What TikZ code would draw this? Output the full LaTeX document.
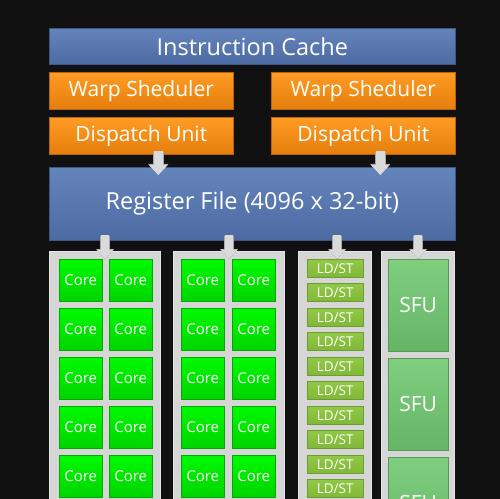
\documentclass[tikz,border=0pt]{standalone}
\usepackage{fontspec}
\setmainfont{Open Sans}
\usetikzlibrary{arrows.meta}
\definecolor{bg}{HTML}{111111}
\definecolor{blueT}{HTML}{6484BC}
\definecolor{blueB}{HTML}{4C6BA2}
\definecolor{blueE}{HTML}{3E5886}
\definecolor{orT}{HTML}{FF9C24}
\definecolor{orB}{HTML}{E57E0C}
\definecolor{orE}{HTML}{B8640A}
\definecolor{coreT}{HTML}{00FA00}
\definecolor{coreB}{HTML}{00D400}
\definecolor{ldT}{HTML}{92C848}
\definecolor{ldB}{HTML}{80B838}
\definecolor{sfuT}{HTML}{80CE80}
\definecolor{sfuB}{HTML}{66B466}
\definecolor{colG}{HTML}{D6D6D6}
\definecolor{colE}{HTML}{E4E4E4}
\definecolor{arrG}{HTML}{DADADA}
\definecolor{arrE}{HTML}{A8A8A8}
\begin{document}
\begin{tikzpicture}[x=1bp,y=-1bp,
  box/.style={inner sep=0pt, anchor=north west, text=white},
  bluebox/.style={box, top color=blueT, bottom color=blueB, draw=blueE, line width=0.6bp,
    font=\fontsize{23.5bp}{28bp}\selectfont},
  orbox/.style={box, top color=orT, bottom color=orB, draw=orE, line width=0.6bp,
    minimum width=184bp, minimum height=37bp, font=\fontsize{21bp}{25bp}\selectfont},
  colbox/.style={box, fill=colG, draw=colE, line width=1.2bp, minimum height=300bp},
  corebox/.style={box, top color=coreT, bottom color=coreB, draw=coreB!80!black, line width=0.4bp,
    minimum width=43bp, minimum height=42bp, font=\fontsize{15bp}{18bp}\selectfont},
  ldbox/.style={box, top color=ldT, bottom color=ldB, draw=ldB!85!black, line width=0.4bp,
    minimum width=56bp, minimum height=18bp, font=\fontsize{13.5bp}{16bp}\selectfont},
  sfubox/.style={box, top color=sfuT, bottom color=sfuB, draw=sfuB!85!black, line width=0.4bp,
    minimum width=60bp, minimum height=92bp, font=\fontsize{21bp}{25bp}\selectfont},
  blko/.style={draw=arrE, line width=10.6bp, -{Triangle[width=19.6bp,length=11bp]}},
  blk/.style={draw=arrG, line width=9bp, -{Triangle[width=18bp,length=10bp]}},
  blkso/.style={draw=arrE, line width=9.4bp, -{Triangle[width=17.6bp,length=10bp]}},
  blks/.style={draw=arrG, line width=8bp, -{Triangle[width=16bp,length=9bp]}}
]
\fill[bg] (0,0) rectangle (500,499);
\useasboundingbox (0,0) rectangle (500,499);
\clip (0,0) rectangle (500,499);

% top blocks
\node[bluebox, minimum width=406bp, minimum height=36bp] (ic) at (49,28) {Instruction Cache};
\node[orbox] (ws1) at (49,72) {Warp Sheduler};
\node[orbox] (ws2) at (271,72) {Warp Sheduler};
\node[orbox] (du1) at (49,117) {Dispatch Unit};
\node[orbox] (du2) at (271,117) {Dispatch Unit};
\node[bluebox, minimum width=406bp, minimum height=73bp] (rf) at (49,167) {Register File (4096 x 32-bit)};

% columns
\node[colbox, minimum width=111bp] (col1) at (49,251) {};
\node[colbox, minimum width=111bp] (col2) at (173,251) {};
\node[colbox, minimum width=73bp] (col3) at (298,251) {};
\node[colbox, minimum width=73bp] (col4) at (381,251) {};

% cores
\foreach \r in {0,...,4} {
  \node[corebox] (ca-\r) at (59,{259+49*\r}) {Core};
  \node[corebox] (cb-\r) at (109,{259+49*\r}) {Core};
  \node[corebox] (cc-\r) at (181,{259+49*\r}) {Core};
  \node[corebox] (cd-\r) at (232,{259+49*\r}) {Core};
  \foreach \k in {0,1} {
    \node[ldbox] (ls-\r-\k) at (307,{259+49*\r+24*\k}) {LD/ST};
  }
}
% SFUs
\foreach \s in {0,1,2} {
  \node[sfubox] (sfu-\s) at (388,{259+99*\s}) {SFU};
}

% arrows dispatch -> register file
\coordinate (a1s) at ([xshift=17bp,yshift=4bp]du1.south);
\coordinate (a2s) at ([xshift=17bp,yshift=4bp]du2.south);
\coordinate (rfn) at ([yshift=-8bp]rf.north);
\foreach \a in {a1s,a2s} {
  \draw[blko] ([yshift=-1bp]\a) -- (\a |- rfn);
  \draw[blk] (\a) -- (\a |- rfn);
}

% arrows register file -> columns
\foreach \c/\dx in {col1/0, col2/0, col3/2, col4/0} {
  \draw[blkso] ([xshift=\dx bp,yshift=5bp]rf.south -| \c.north) -- ([xshift=\dx bp,yshift=-8bp]\c.north);
  \draw[blks] ([xshift=\dx bp,yshift=6bp]rf.south -| \c.north) -- ([xshift=\dx bp,yshift=-7.6bp]\c.north);
}
\end{tikzpicture}
\end{document}
